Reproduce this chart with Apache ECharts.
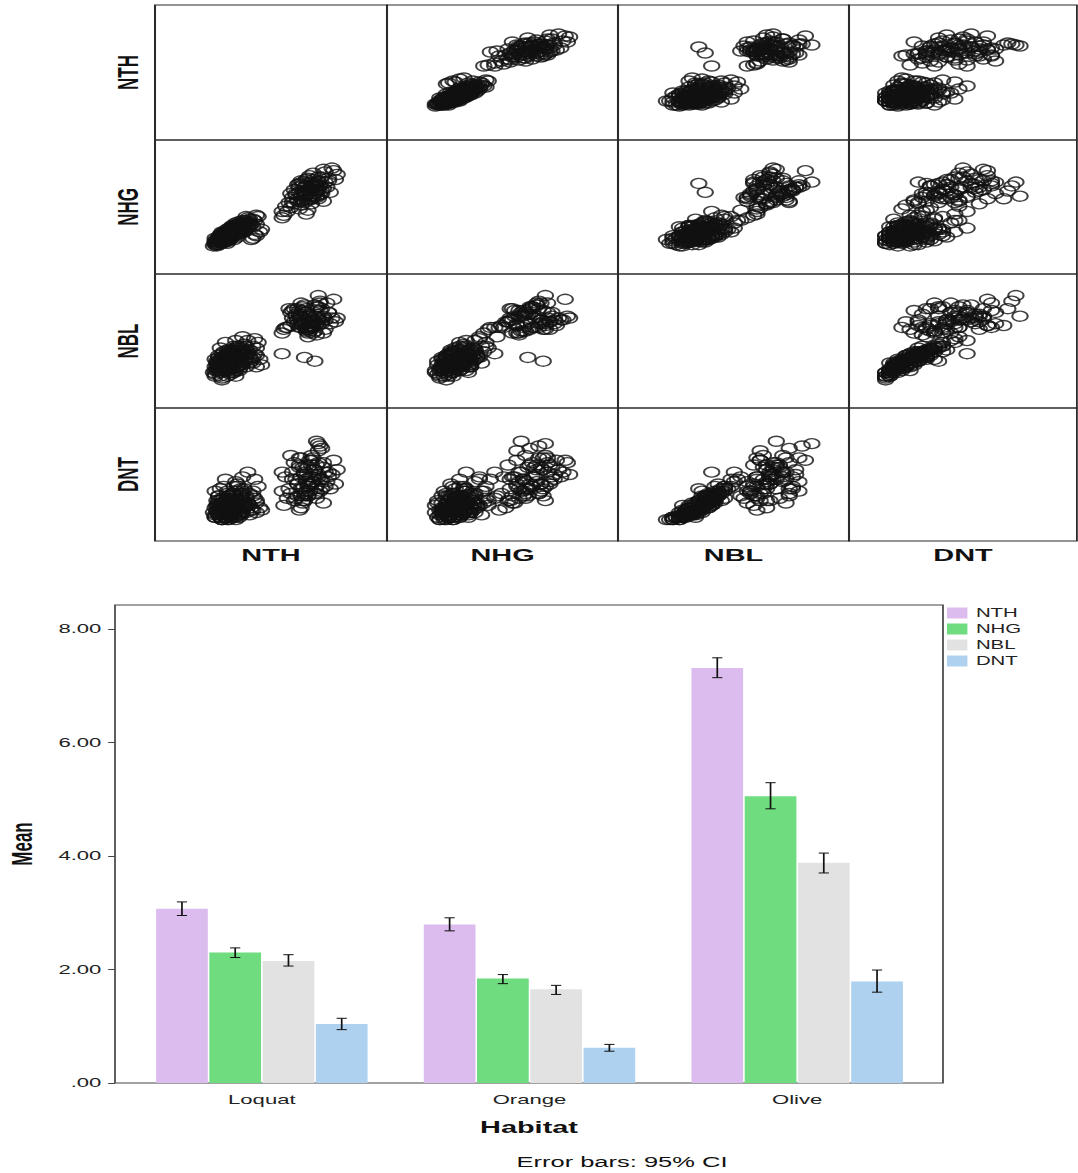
<!DOCTYPE html>
<html>
<head>
<meta charset="utf-8">
<script src="https://cdn.jsdelivr.net/npm/echarts@6/dist/echarts.min.js"></script>
<style>
  html, body { margin: 0; padding: 0; background: #fff; }
  #wrap { width: 1078px; height: 1173px; overflow: hidden; }
  #chart { height: 1173px; transform-origin: 0 0; }
</style>
</head>
<body>
<div id="wrap"><div id="chart"></div></div>
<script>
// ---- measurements (one entry per specimen) ----
const varNames = ['NTH', 'NHG', 'NBL', 'DNT'];

const NTH = [
  // Loquat / Orange specimens, batch 1
  3.0,2.5,3.4,2.2,3.8,2.8,3.2,2.0,4.2,2.6,
  3.6,2.4,3.1,2.9,4.5,2.3,3.5,2.7,3.3,1.9,
  4.0,2.1,3.7,2.6,3.0,4.6,4.3,4.7,2.4,3.2,
  2.8,3.9,2.2,3.4,2.5,3.6,3.1,2.0,4.1,2.7,
  3.5,2.3,3.0,4.4,2.9,3.3,2.1,3.8,2.6,3.2,
  2.4,3.7,2.8,3.9,2.2,3.4,2.5,4.0,3.1,2.0,
  3.6,2.7,3.0,2.3,4.2,2.9,3.5,2.1,3.3,2.6,
  3.8,2.4,3.1,2.8,4.3,2.2,3.2,2.5,3.7,2.0,
  // Olive specimens, batch 1
  7.3,7.6,7.0,7.8,6.8,7.4,8.0,6.6,7.2,7.5,
  8.2,6.9,7.1,7.7,8.4,6.4,7.9,7.3,6.7,8.6,
  7.0,7.6,6.2,8.1,7.4,6.5,8.3,7.2,7.8,6.0,
  9.0,8.8,7.5,6.3,7.9,7.1,8.5,6.9,7.7,5.9,
  8.0,8.1,8.2,7.9,8.0,7.8,7.2,5.9,9.1,6.6,
  7.4,8.7,6.1,7.0,8.3,7.6,6.8,8.9,7.3,6.4,
  // Loquat / Orange specimens, batch 2
  2.7,3.1,2.4,3.3,2.9,2.5,3.5,2.2,3.0,2.6,
  3.4,2.8,3.2,2.3,3.6,2.7,3.0,2.5,3.3,2.9,
  2.1,3.7,2.6,3.1,2.4,3.4,2.8,3.2,2.3,3.8,
  2.6,3.0,2.2,3.5,2.7,3.1,2.5,3.6,2.9,2.4,
  3.3,2.8,2.1,3.9,2.6,3.2,2.9,2.3,3.4,2.7,
  3.0,2.5,4.2,2.2,3.1,2.8,3.5,2.4,3.0,2.6,
  3.3,2.9,2.0,4.4,2.7,3.2,2.5,4.0,2.3,3.4,
  2.8,3.1,2.4,4.1,2.6,3.0,2.2,3.5,2.9,4.4,
  // Olive specimens, batch 2
  7.5,7.2,7.9,6.9,8.1,7.4,7.0,7.7,8.3,7.1,
  7.6,6.7,8.0,7.3,7.8,6.8,8.4,7.5,7.1,7.9,
  6.5,8.6,7.3,7.7,6.9,8.2,7.4,7.0,8.0,7.6
];
const NHG = [
  2.0,1.5,2.3,1.2,2.7,1.9,2.1,1.0,3.0,1.6,
  2.4,1.7,1.8,2.2,3.2,1.3,2.6,1.4,2.5,0.9,
  2.8,1.4,2.2,1.8,2.3,2.0,1.8,2.2,1.1,2.7,
  2.0,3.1,1.5,1.9,1.2,2.9,2.4,1.2,2.6,1.7,
  2.1,1.6,1.6,3.3,1.5,2.2,1.1,2.5,2.0,1.9,
  1.4,2.8,1.3,2.3,1.0,2.0,1.9,3.0,2.2,1.3,
  2.3,1.1,2.5,1.8,2.4,1.7,2.7,0.9,1.6,1.5,
  3.2,2.0,1.4,2.3,2.9,1.2,1.7,1.7,2.0,1.5,
  5.0,5.4,4.7,5.8,4.4,5.2,6.0,4.2,5.5,4.8,
  6.3,5.1,4.5,5.6,6.7,3.9,5.3,6.1,4.9,6.2,
  4.1,5.9,3.6,5.7,4.6,4.7,6.9,4.3,5.0,3.3,
  6.1,7.0,6.4,4.3,4.7,5.7,5.5,3.8,6.6,3.1,
  5.9,5.6,5.2,4.8,4.6,5.8,5.1,3.6,6.5,5.3,
  3.7,5.1,4.0,6.0,4.4,4.2,5.7,6.8,3.4,5.0,
  1.8,2.1,1.4,2.3,1.9,1.6,2.4,1.3,2.1,1.7,
  2.2,1.6,2.4,1.5,2.5,2.0,1.8,1.3,2.0,2.1,
  1.2,2.6,1.5,1.9,1.6,2.5,1.8,2.2,1.2,2.9,
  1.9,2.2,1.5,2.1,1.5,2.3,1.8,2.7,1.7,1.3,
  2.4,2.1,1.0,2.7,1.4,2.0,2.3,1.7,2.0,1.6,
  1.9,1.4,1.5,1.4,2.5,1.4,2.3,1.8,1.7,1.2,
  2.6,1.8,1.1,1.7,2.2,1.8,2.0,2.5,1.4,2.8,
  1.7,2.0,1.2,1.4,1.8,2.4,1.6,1.9,1.5,2.6,
  5.3,4.8,5.6,5.5,4.9,5.8,4.4,6.1,5.4,5.2,
  4.6,5.0,6.3,4.9,5.5,4.6,5.9,4.5,5.9,5.2,
  4.3,6.0,5.6,4.7,5.8,5.0,6.2,4.9,5.3,5.7
];
const NBL = [
  1.9,1.5,2.2,1.3,2.4,1.7,2.0,1.1,2.6,2.1,
  1.6,1.4,2.3,1.8,2.8,1.0,2.5,1.6,1.5,1.2,
  2.0,1.7,2.7,1.3,2.0,1.9,2.2,1.6,0.9,2.9,
  2.4,2.3,1.8,1.4,1.9,3.1,1.2,1.5,1.8,2.2,
  1.7,1.2,1.6,2.5,1.1,2.6,1.4,1.5,2.8,1.9,
  0.8,2.1,1.4,2.9,1.6,1.3,2.0,1.7,1.8,1.9,
  2.3,1.0,2.2,2.5,2.0,1.5,1.9,1.3,2.4,1.7,
  2.6,1.6,2.1,1.3,3.0,2.0,1.0,2.3,1.8,1.0,
  4.4,3.6,4.2,3.9,4.6,3.5,4.1,3.9,4.8,3.4,
  3.8,4.3,4.5,3.6,4.0,3.7,4.7,3.5,4.2,4.4,
  3.9,3.8,3.6,4.9,3.3,4.5,4.2,4.0,3.4,3.5,
  3.9,4.1,3.7,4.6,3.2,3.8,4.9,3.6,4.0,3.3,
  5.3,5.0,4.6,4.2,3.7,1.8,2.0,2.2,4.1,4.6,
  3.1,3.8,3.6,4.9,3.3,3.9,4.0,5.1,3.6,4.4,
  1.8,1.6,2.0,1.9,2.1,1.5,2.2,1.7,1.4,1.9,
  1.7,2.3,2.1,1.3,1.8,1.6,2.4,1.8,2.0,1.5,
  1.6,2.3,1.4,1.9,2.2,1.6,1.7,2.5,1.5,2.0,
  2.0,1.7,1.4,2.1,1.3,2.2,1.6,2.4,1.8,1.2,
  1.5,2.0,1.8,2.2,1.7,1.3,2.3,1.9,2.0,2.1,
  1.5,1.6,1.7,2.1,1.9,1.5,2.6,1.7,1.2,1.5,
  2.3,1.9,1.3,1.5,2.4,1.8,1.9,2.4,1.6,2.0,
  1.2,2.6,1.4,1.9,1.8,1.8,1.5,1.6,2.2,2.1,
  3.6,4.4,3.8,4.2,4.5,3.5,4.0,3.9,4.1,4.7,
  3.7,4.3,4.0,3.4,4.8,3.8,3.5,4.2,3.7,4.3,
  4.1,4.4,4.6,3.3,4.5,3.9,4.2,3.6,4.7,4.0
];
const DNT = [
  0.8,0.5,1.0,0.4,1.2,0.6,0.9,0.3,1.4,0.7,
  0.5,0.6,1.1,0.9,1.6,0.3,1.3,0.4,0.7,0.5,
  0.8,0.8,1.5,0.3,1.0,0.7,1.1,0.6,0.2,1.8,
  1.2,0.9,1.0,0.4,0.9,2.0,0.3,0.7,0.6,1.3,
  0.8,0.4,0.5,1.0,0.3,1.6,0.6,0.5,1.9,1.2,
  0.2,0.7,0.5,2.2,0.9,0.3,1.1,0.4,0.6,1.4,
  1.4,0.2,0.8,1.5,1.2,0.7,0.5,0.8,1.7,0.3,
  1.1,0.4,1.3,0.6,1.9,1.2,0.2,1.6,0.9,0.3,
  1.8,2.0,1.5,2.3,1.2,1.7,2.6,1.0,2.1,1.4,
  1.9,2.4,0.9,2.8,2.2,1.3,1.6,2.5,1.9,2.0,
  0.7,2.9,1.1,1.4,1.6,2.2,2.6,1.0,1.3,0.8,
  1.7,2.1,2.7,1.5,1.1,2.4,1.8,0.6,2.0,1.4,
  3.4,3.3,3.2,3.5,3.1,1.5,1.2,2.2,2.3,2.6,
  1.2,1.5,2.0,2.8,0.9,2.5,1.7,2.7,1.9,2.9,
  0.7,0.5,0.9,0.8,1.0,0.4,1.1,0.6,0.4,0.8,
  0.6,1.2,0.9,0.3,0.7,0.5,1.3,0.7,1.0,0.4,
  0.5,1.0,0.3,0.9,1.1,0.5,0.6,1.4,0.6,0.8,
  0.9,0.5,0.4,1.2,0.3,0.8,0.7,1.3,0.5,0.2,
  0.4,1.0,1.0,0.9,0.6,0.3,1.1,0.8,0.7,1.1,
  0.4,0.5,0.6,1.2,0.7,0.4,1.5,0.9,0.3,0.5,
  1.0,0.8,0.4,0.5,1.4,0.6,0.6,1.3,0.7,0.9,
  0.2,1.6,0.5,0.7,1.0,0.6,0.8,0.4,1.2,0.9,
  1.6,2.2,1.3,2.5,1.9,1.2,2.0,1.8,2.4,1.5,
  2.7,1.1,2.1,1.4,2.3,1.7,1.6,2.0,1.0,2.5,
  1.9,2.2,1.3,1.8,2.8,1.5,2.4,1.2,2.0,1.7
];

// ---- habitat means with 95% confidence limits ----
const habitats = ['Loquat', 'Orange', 'Olive'];
const meanNTH = [3.07, 2.79, 7.31];
const meanNHG = [2.30, 1.84, 5.05];
const meanNBL = [2.15, 1.65, 3.88];
const meanDNT = [1.04, 0.62, 1.79];
const lowNTH = [2.95, 2.68, 7.14];
const highNTH = [3.19, 2.91, 7.49];
const lowNHG = [2.21, 1.75, 4.83];
const highNHG = [2.38, 1.91, 5.29];
const lowNBL = [2.06, 1.56, 3.70];
const highNBL = [2.26, 1.72, 4.05];
const lowDNT = [0.94, 0.56, 1.60];
const highDNT = [1.14, 0.68, 1.99];
const meanTicks = [0, 2, 4, 6, 8];

// ---- layout ----
const SX = 1.7;                       // the figure is drawn wide: horizontal stretch factor
const W = 1078 / SX;
const X = v => v / SX;
const FONT = "'Liberation Sans', Arial, Helvetica, sans-serif";
const chartEl = document.getElementById('chart');
chartEl.style.width = W + 'px';
chartEl.style.transform = 'scaleX(' + SX + ')';

const columns = [NTH, NHG, NBL, DNT];
const varRange = [[-1.5, 12], [-1.3, 9.2], [-0.7, 6.45], [-0.7, 4.9]];
const colEdges = [155, 387, 618, 849, 1077];
const rowEdges = [5, 140, 274, 408, 541];

const grid = [], xAxis = [], yAxis = [], series = [];

// scatterplot matrix
for (let r = 0; r < 4; r++) {
  for (let c = 0; c < 4; c++) {
    const g = grid.length;
    grid.push({
      left: X(colEdges[c]), top: rowEdges[r],
      width: X(colEdges[c + 1] - colEdges[c]), height: rowEdges[r + 1] - rowEdges[r],
      show: true, borderColor: '#2a2a2a', borderWidth: 1.2, backgroundColor: 'transparent',
      outerBoundsMode: 'none'
    });
    xAxis.push({ gridIndex: g, type: 'value', min: varRange[c][0], max: varRange[c][1], show: false });
    yAxis.push({ gridIndex: g, type: 'value', min: varRange[r][0], max: varRange[r][1], show: false });
    if (r !== c) {
      series.push({
        type: 'scatter', xAxisIndex: g, yAxisIndex: g, silent: true,
        symbol: 'circle', symbolSize: [9, 10],
        itemStyle: { color: 'rgba(0,0,0,0)', borderColor: '#111', borderWidth: 1.3 },
        data: columns[c].map((v, i) => [v, columns[r][i]])
      });
    }
  }
}

// frame of the bar chart
const FG = grid.length;
grid.push({
  left: X(115), top: 605, width: X(943 - 115), height: 1083 - 605,
  show: true, borderColor: '#444', borderWidth: 1, outerBoundsMode: 'none'
});
xAxis.push({ gridIndex: FG, type: 'value', show: false });
yAxis.push({ gridIndex: FG, type: 'value', show: false });

// bar chart of means (category band sits slightly inside the frame)
const BG = grid.length;
grid.push({
  left: X(128), top: 605, width: X(931 - 128), height: 1083 - 605,
  show: false, outerBoundsMode: 'none'
});
xAxis.push({
  gridIndex: BG, type: 'category', data: habitats,
  axisLine: { show: false }, axisTick: { show: false },
  axisLabel: { fontSize: 13, color: '#222', fontFamily: FONT, margin: 10 }
});
yAxis.push({
  gridIndex: BG, type: 'value', min: 0, max: 8.42, interval: 2, offset: X(128 - 115),
  splitLine: { show: false }, axisLine: { show: false },
  axisTick: { show: true, length: 4, lineStyle: { color: '#444' } },
  axisLabel: {
    fontSize: 13, color: '#222', fontFamily: FONT, margin: 8, showMaxLabel: false,
    formatter: v => meanTicks.includes(v) ? (v === 0 ? '.00' : v.toFixed(2)) : ''
  }
});

const CAT_GAP = 0.21, BAR_GAP = 0.03;
const barColors = ['#dcbcef', '#6fdc80', '#e2e2e2', '#aed1ef'];
const means = [meanNTH, meanNHG, meanNBL, meanDNT];
const lows = [lowNTH, lowNHG, lowNBL, lowDNT];
const highs = [highNTH, highNHG, highNBL, highDNT];

varNames.forEach((name, k) => {
  series.push({
    type: 'bar', name, xAxisIndex: BG, yAxisIndex: BG, silent: true,
    barCategoryGap: (CAT_GAP * 100) + '%', barGap: (BAR_GAP * 100) + '%',
    itemStyle: { color: barColors[k] },
    data: means[k]
  });
});
varNames.forEach((name, k) => {
  series.push({
    type: 'custom', xAxisIndex: BG, yAxisIndex: BG, z: 5, silent: true,
    data: habitats.map((h, i) => [i, lows[k][i], highs[k][i]]),
    encode: { x: 0, y: [1, 2] },
    renderItem(params, api) {
      const i = api.value(0);
      const top = api.coord([i, api.value(2)]);
      const bottom = api.coord([i, api.value(1)]);
      const band = api.size([1, 0])[0];
      const groupW = band * (1 - CAT_GAP);
      const barW = groupW / (4 + 3 * BAR_GAP);
      const cx = top[0] - groupW / 2 + barW / 2 + k * barW * (1 + BAR_GAP);
      const half = 3;
      const st = { stroke: '#111', lineWidth: 1 };
      return {
        type: 'group', children: [
          { type: 'line', shape: { x1: cx, y1: top[1], x2: cx, y2: bottom[1] }, style: st },
          { type: 'line', shape: { x1: cx - half, y1: top[1], x2: cx + half, y2: top[1] }, style: st },
          { type: 'line', shape: { x1: cx - half, y1: bottom[1], x2: cx + half, y2: bottom[1] }, style: st }
        ]
      };
    }
  });
});

// titles and variable labels
const graphic = [];
const txt = (text, x, y, size, bold, rot) => ({
  type: 'text', x, y, rotation: rot || 0, silent: true,
  style: {
    text, fill: '#111', fontSize: size, fontWeight: bold ? 'bold' : 'normal', fontFamily: FONT,
    align: 'center', verticalAlign: 'middle', textAlign: 'center', textVerticalAlign: 'middle'
  }
});
varNames.forEach((name, i) => {
  graphic.push(txt(name, X((colEdges[i] + colEdges[i + 1]) / 2), 555, 17, true));
  graphic.push(txt(name, X(128), (rowEdges[i] + rowEdges[i + 1]) / 2, 17, true, Math.PI / 2));
});
graphic.push(txt('Mean', X(22), 844, 17, true, Math.PI / 2));
graphic.push(txt('Habitat', X(529), 1127, 17, true));
graphic.push(txt('Error bars: 95% CI', X(622), 1162, 15, false));

const chart = echarts.init(chartEl, null, { renderer: 'svg', width: W, height: 1173 });
chart.setOption({
  animation: false,
  backgroundColor: '#fff',
  textStyle: { fontFamily: FONT },
  legend: {
    data: varNames, orient: 'vertical', left: X(947), top: 607, padding: 0,
    itemWidth: 12, itemHeight: 11, itemGap: 4, icon: 'rect', selectedMode: false,
    textStyle: { fontSize: 12, color: '#222', fontFamily: FONT }
  },
  grid, xAxis, yAxis, series, graphic
});
</script>
</body>
</html>
